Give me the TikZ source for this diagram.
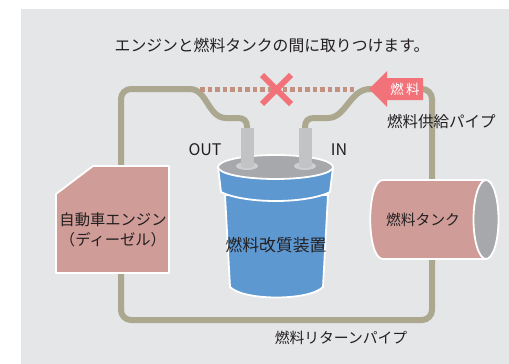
\documentclass[tikz,border=0pt]{standalone}
\usepackage{fontspec}
\setmainfont{Noto Sans CJK JP}
\definecolor{panel}{HTML}{E5E6E8}
\definecolor{pipec}{HTML}{ACA890}
\definecolor{dotc}{HTML}{C3917F}
\definecolor{warn}{HTML}{F2727A}
\definecolor{rosy}{HTML}{CF9C98}
\definecolor{bluec}{HTML}{5E98D1}
\definecolor{capc}{HTML}{A7A8AC}
\definecolor{tubec}{HTML}{C2C3C5}
\definecolor{ringc}{HTML}{CDCED0}
\definecolor{txt}{HTML}{231F20}
\tikzset{
  pipe/.style={draw=pipec, line width=6pt},
  lbl/.style={inner sep=0pt, text=txt, font=\fontsize{15.5}{18}\selectfont},
  outline/.style={draw=white, line width=1.8pt, line join=round},
}
\begin{document}
\begin{tikzpicture}[x=1pt,y=-1pt]
  \useasboundingbox (0,0) rectangle (509,364);
  \fill[white] (0,0) rectangle (509,364);
  \fill[panel] (21,9) rectangle (509,364);

  % heading
  \node[lbl, font=\fontsize{15.8}{18}\selectfont] (title) at (272,45) {エンジンと燃料タンクの間に取りつけます。};

  % named pipe ends at the filter tubes
  \coordinate (outtop) at (247,130);
  \coordinate (intop) at (305,130);

  % fuel loop
  \draw[pipe, rounded corners=10pt] (192,89) -- (121,89) -- (121,320) -- (432,320) -- (432,89) -- (368,89);
  \draw[pipe] (outtop) -- (247,127) .. controls (247,121) and (244,118) .. (238,118)
      -- (226,118) .. controls (208,118) and (207,89) .. (190,89);
  \draw[pipe] (intop) -- (305,127) .. controls (305,121) and (308,118) .. (314,118)
      -- (328,118) .. controls (346,118) and (350,89) .. (370,89);

  % former direct connection, crossed out
  \draw[dotc, line width=5pt, dash pattern=on 4.5pt off 3pt] (200,89) -- (354,89);
  \draw[warn, line width=6pt] (262,75) -- (291,104) (262,104) -- (291,75);

  % fuel flow arrow
  \fill[warn] (369,89) -- (387,71) -- (387,78) -- (423,78) -- (423,100) -- (387,100) -- (387,107) -- cycle;
  \node[inner sep=0pt, text=white, font=\fontsize{13.5}{15}\selectfont] (flow) at (405,89) {燃\,料};

  % engine
  \filldraw[fill=rosy, outline] (93,166) -- (169,166) -- (169,273) -- (56,273) -- (56,194) -- cycle;
  \node[lbl, align=center, font=\fontsize{15.3}{20}\selectfont] (engine) at (113,230) {自動車エンジン\\（ディーゼル）};

  % fuel tank
  \filldraw[fill=rosy, outline] (383,180) -- (486,180) -- (486,259) -- (383,259)
      .. controls (366,259) and (366,180) .. cycle;
  \filldraw[fill=capc, outline] (486,219.5) ellipse [x radius=12.5, y radius=39.5];
  \node[lbl, font=\fontsize{14.8}{17}\selectfont] (tank) at (423,220) {燃料タンク};

  % filter body
  \filldraw[fill=bluec, outline] (225,195) -- (230,287) .. controls (244,301) and (309,301) .. (323,287)
      -- (328,195) -- cycle;
  \filldraw[fill=bluec, outline] (218,167) -- (221,192) .. controls (245,204) and (306,204) .. (330,192)
      -- (333,167) -- cycle;
  \filldraw[fill=capc, outline] (275.5,167) ellipse [x radius=57.5, y radius=12];
  \fill[ringc] (247,166) ellipse [x radius=11, y radius=4];
  \fill[ringc] (305,166) ellipse [x radius=11, y radius=4];
  \fill[tubec] (240.5,128) rectangle (253.5,166);
  \fill[tubec] (298.5,128) rectangle (311.5,166);
  \fill[tubec] (247,166) ellipse [x radius=6.5, y radius=2];
  \fill[tubec] (305,166) ellipse [x radius=6.5, y radius=2];
  \node[lbl, font=\fontsize{16.8}{19}\selectfont] (filter) at (276,245) {燃料改質装置};

  % port and pipe labels
  \node[lbl, font=\fontsize{16}{19}\selectfont] (outlbl) at (205,150) {OUT};
  \node[lbl, font=\fontsize{16}{19}\selectfont] (inlbl) at (339,150) {IN};
  \node[lbl, anchor=west] (supply) at (387,122) {燃料供給パイプ};
  \node[lbl, font=\fontsize{14.8}{17}\selectfont] (return) at (341,338) {燃料リターンパイプ};
\end{tikzpicture}
\end{document}
